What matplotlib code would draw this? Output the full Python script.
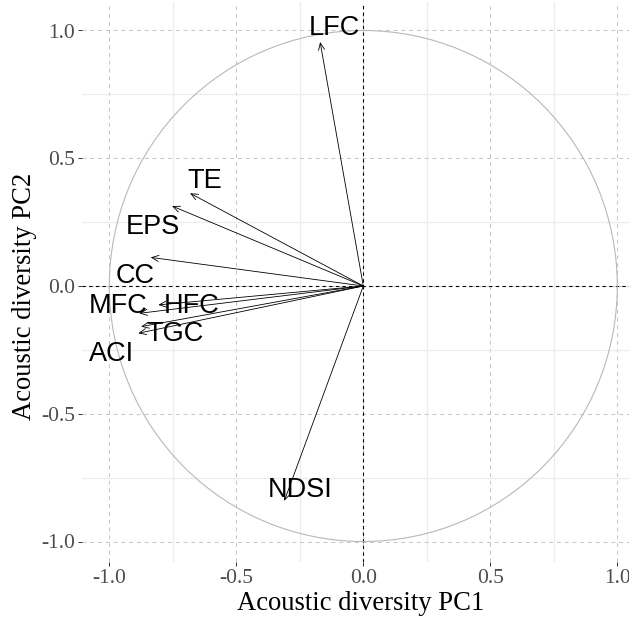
import matplotlib
matplotlib.use("Agg")
import matplotlib.pyplot as plt
from matplotlib.patches import Circle, FancyArrowPatch, ArrowStyle
from matplotlib.ticker import MultipleLocator

# Variable loadings on the first two principal components
variables = ["LFC", "TE", "EPS", "CC", "HFC", "MFC", "TGC", "ACI", "NDSI"]
pc1 = [-0.170, -0.682, -0.753, -0.837, -0.807, -0.882, -0.875, -0.886, -0.311]
pc2 = [0.955, 0.363, 0.313, 0.112, -0.074, -0.107, -0.159, -0.185, -0.841]

# Label anchor points (centre of each label)
label_x = [-0.112, -0.624, -0.828, -0.899, -0.676, -0.965, -0.741, -0.991, -0.249]
label_y = [1.022, 0.423, 0.243, 0.051, -0.067, -0.068, -0.179, -0.257, -0.786]

ticks = [-1.0, -0.5, 0.0, 0.5, 1.0]
tick_labels = ["-1.0", "-0.5", "0.0", "0.5", "1.0"]

W, H, DPI = 629, 621, 100
fig = plt.figure(figsize=(W / DPI, H / DPI), dpi=DPI)
fig.patch.set_facecolor("white")

# panel placement in pixels
left_px, right_px, top_px, bottom_px = 82, 629, 2, 562
ax = fig.add_axes([left_px / W, (H - bottom_px) / H,
                   (right_px - left_px) / W, (bottom_px - top_px) / H])

x0, sx = 363.3, 254.0
y0, sy = 286.0, 255.5
ax.set_xlim((left_px - x0) / sx, (right_px - x0) / sx)
ax.set_ylim((y0 - bottom_px) / sy, (y0 - top_px) / sy)

for s in ax.spines.values():
    s.set_visible(False)
ax.set_facecolor("white")

# grid: dashed major, solid light minor
ax.set_xticks(ticks)
ax.set_yticks(ticks)
ax.xaxis.set_minor_locator(MultipleLocator(0.25))
ax.yaxis.set_minor_locator(MultipleLocator(0.25))
ax.grid(which="major", color="#c4c4c4", linestyle=(0, (4, 4)), linewidth=0.7)
ax.grid(which="minor", color="#ececec", linestyle="-", linewidth=0.9)
ax.tick_params(which="minor", length=0)
ax.set_axisbelow(True)

serif = ["Liberation Serif", "DejaVu Serif"]
sans = ["Liberation Sans", "DejaVu Sans"]

ax.set_xticklabels(tick_labels, fontfamily=serif, fontsize=15.5, color="#4d4d4d")
ax.set_yticklabels(tick_labels, fontfamily=serif, fontsize=15.5, color="#4d4d4d")
ax.tick_params(which="major", length=3, width=0.7, color="#333333", pad=2)

# zero reference lines
ax.axhline(0, color="black", linestyle=(0, (3, 3)), linewidth=0.8, zorder=2)
ax.axvline(0, color="black", linestyle=(0, (3, 3)), linewidth=0.8, zorder=2)

# unit correlation circle
ax.add_patch(Circle((0, 0), 1.0, fill=False, edgecolor="#b8b8b8", linewidth=0.8, zorder=3))

# loading arrows
head = ArrowStyle("->", head_length=5, head_width=2.2)
for x, y in zip(pc1, pc2):
    ax.add_patch(FancyArrowPatch((0, 0), (x, y), arrowstyle=head, mutation_scale=1,
                                 color="black", linewidth=0.6, shrinkA=0, shrinkB=0,
                                 zorder=4))

label_fs = 19.5
for name, lx, ly in zip(variables, label_x, label_y):
    ax.annotate(name, (lx, ly), xytext=(0, -0.358 * label_fs), textcoords="offset points",
                ha="center", va="baseline", fontsize=label_fs, fontfamily=sans,
                color="black", zorder=5)

ax.set_xlabel("Acoustic diversity PC1", fontfamily=serif, fontsize=19.2)
ax.set_ylabel("Acoustic diversity PC2", fontfamily=serif, fontsize=19.2)
ax.xaxis.set_label_coords((361 - left_px) / (right_px - left_px), -(603 - bottom_px) / (bottom_px - top_px))
ax.yaxis.set_label_coords(-(left_px - 25) / (right_px - left_px), (bottom_px - 296) / (bottom_px - top_px))
ax.xaxis.label.set_verticalalignment("center")
ax.yaxis.label.set_verticalalignment("center")

fig.savefig("out.png", dpi=DPI, facecolor="white")
